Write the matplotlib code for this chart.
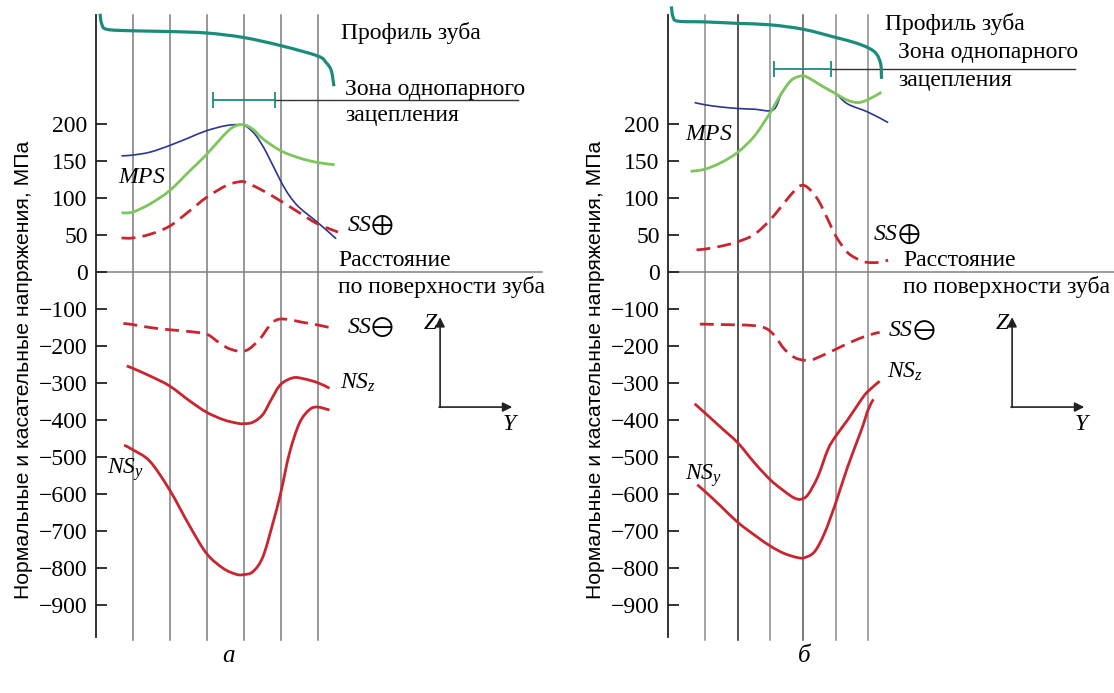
import numpy as np
import matplotlib
matplotlib.use("Agg")
import matplotlib.pyplot as plt
from matplotlib.path import Path
from matplotlib.patches import PathPatch

plt.rcParams['font.family'] = ['Liberation Serif', 'DejaVu Serif']
plt.rcParams['mathtext.fontset'] = 'custom'
plt.rcParams['mathtext.rm'] = 'Liberation Serif'
plt.rcParams['mathtext.it'] = 'Liberation Serif:italic'
plt.rcParams['mathtext.fallback'] = 'stix'

# stress ticks (MPa); positive half of the axis is stretched x2
yticks = [200, 150, 100, 50, 0, -100, -200, -300, -400, -500, -600, -700, -800, -900]

# ---- panel a ----
a_grid = [1, 2, 3, 4, 5, 6]
a_prof_x = [0.11, 0.15, 0.29, 0.99, 1.99, 2.99, 3.98, 4.99, 5.99, 6.22, 6.36, 6.43]
a_prof_y = [349, 336, 328, 326, 325, 323, 317, 306, 292, 283, 272, 251]
a_mps_x = [0.69, 0.99, 1.46, 1.99, 2.54, 2.99, 3.53, 3.93, 4.11, 4.33, 4.60, 4.99, 5.23, 5.50, 5.99, 6.49]
a_mps_y = [157, 158, 162, 171, 182, 191, 198, 199, 195, 184, 162, 123, 103, 87, 67, 45]
a_grn_x = [0.69, 0.99, 1.46, 1.99, 2.54, 2.99, 3.44, 3.71, 3.98, 4.24, 4.51, 4.99, 5.50, 5.99, 6.45]
a_grn_y = [80, 81, 92, 110, 137, 159, 184, 196, 199, 193, 180, 164, 154, 148, 145]
a_ssp_x = [0.69, 0.99, 1.46, 1.99, 2.54, 2.99, 3.53, 3.88, 4.06, 4.51, 4.99, 5.50, 5.99, 6.54]
a_ssp_y = [46, 46, 51, 62, 83, 101, 117, 122, 121, 110, 96, 80, 65, 54]
a_ssm_x = [0.74, 0.99, 1.46, 1.99, 2.54, 2.99, 3.26, 3.53, 3.79, 3.98, 4.15, 4.42, 4.69, 4.83, 4.99, 5.23, 5.59, 5.99, 6.31]
a_ssm_y = [-139, -142, -150, -156, -161, -168, -186, -204, -213, -214, -207, -182, -145, -132, -127, -129, -136, -143, -150]
a_nsz_x = [0.83, 0.99, 1.46, 1.99, 2.54, 2.99, 3.44, 3.79, 3.98, 4.24, 4.51, 4.74, 4.99, 5.32, 5.59, 5.99, 6.31]
a_nsz_y = [-254, -260, -281, -308, -349, -379, -399, -408, -410, -406, -385, -344, -304, -286, -288, -299, -314]
a_nsy_x = [0.76, 0.99, 1.46, 1.99, 2.54, 2.99, 3.44, 3.79, 3.98, 4.24, 4.51, 4.78, 4.99, 5.23, 5.50, 5.77, 5.99, 6.31]
a_nsy_y = [-468, -480, -512, -589, -688, -761, -801, -817, -818, -810, -770, -679, -598, -489, -408, -372, -365, -373]
a_zone = [3.15, 4.84]

# ---- panel b ----
b_grid = [1.0, 1.89, 2.77, 3.66, 4.53, 5.41]
b_prof_x = [0.09, 0.135, 0.27, 1.0, 1.89, 2.77, 3.66, 4.53, 5.05, 5.41, 5.63, 5.75, 5.77]
b_prof_y = [359, 345, 339, 338, 336, 334, 328, 317, 310, 303, 295, 281, 261]
b_mps_x = [0.72, 1.0, 1.44, 1.89, 2.34, 2.84, 3.06, 3.33, 3.60, 3.78, 4.14, 4.53, 4.86, 5.41, 5.95]
b_mps_y = [229, 226, 223, 221, 220, 219, 240, 259, 265, 263, 252, 241, 227, 216, 202]
b_grn_x = [0.61, 1.0, 1.44, 1.89, 2.34, 2.77, 3.06, 3.33, 3.60, 3.78, 4.14, 4.53, 4.86, 5.14, 5.41, 5.77]
b_grn_y = [136, 139, 148, 162, 184, 216, 241, 259, 265, 263, 252, 241, 232, 229, 233, 243]
b_ssp_x = [0.77, 1.0, 1.44, 1.89, 2.34, 2.77, 3.15, 3.42, 3.60, 3.78, 4.05, 4.32, 4.53, 4.86, 5.23, 5.41, 5.68, 5.95]
b_ssp_y = [30, 31, 35, 41, 51, 71, 94, 110, 117, 114, 98, 71, 49, 26, 15, 13, 13, 16]
b_ssm_x = [0.86, 1.0, 1.44, 1.89, 2.34, 2.66, 2.88, 3.15, 3.42, 3.66, 3.87, 4.14, 4.53, 4.95, 5.41, 5.72]
b_ssm_y = [-141, -141, -142, -143, -145, -153, -172, -209, -231, -238, -238, -227, -209, -189, -171, -163]
b_nsz_x = [0.72, 1.0, 1.44, 1.89, 2.34, 2.77, 3.15, 3.42, 3.60, 3.78, 4.05, 4.32, 4.53, 4.86, 5.23, 5.41, 5.72]
b_nsz_y = [-356, -381, -421, -462, -516, -562, -593, -611, -614, -602, -553, -480, -444, -399, -344, -322, -295]
b_nsy_x = [0.79, 1.0, 1.44, 1.89, 2.34, 2.77, 3.15, 3.51, 3.69, 3.96, 4.23, 4.53, 4.86, 5.23, 5.41, 5.55]
b_nsy_y = [-575, -593, -634, -677, -711, -741, -761, -772, -772, -756, -706, -625, -525, -426, -372, -344]
b_zone = [2.87, 4.40]

TEAL = '#1b8c7c'
GREEN = '#7cc65c'
BLUE = '#2b3592'
RED = '#c9252f'
FS = 17


def fwd(v):
    v = np.asarray(v, dtype=float)
    return np.where(v >= 0, v / 50.0, v / 100.0)


def inv(u):
    u = np.asarray(u, dtype=float)
    return np.where(u >= 0, u * 50.0, u * 100.0)


def curve(ax, x, y, **kw):
    # smooth bezier through the read points (control points built in scaled space)
    pts = np.column_stack([np.asarray(x, float), fwd(y)])
    verts = [pts[0]]
    codes = [Path.MOVETO]
    n = len(pts)
    for i in range(n - 1):
        p0 = pts[max(i - 1, 0)]
        p1, p2 = pts[i], pts[i + 1]
        p3 = pts[min(i + 2, n - 1)]
        verts += [p1 + (p2 - p0) / 6.0, p2 - (p3 - p1) / 6.0, p2]
        codes += [Path.CURVE4] * 3
    verts = np.array(verts)
    verts[:, 1] = inv(verts[:, 1])
    ax.add_patch(PathPatch(Path(verts, codes), fill=False, transform=ax.transData,
                           capstyle='butt', joinstyle='round', **kw))


def panel(ax, axis_px, grid, grid_cols, prof, mps, grn, ssp, ssm, nsz, nsy,
          zone, zone_y, leader_end, labels, letter):
    ax.set_yscale('function', functions=(fwd, inv))
    ax.set_xlim((0 - axis_px) / 37.0, (557 - axis_px) / 37.0)
    ax.set_ylim(-1137.8, 367.6)
    ax.patch.set_visible(False)

    for s in ['top', 'right', 'bottom']:
        ax.spines[s].set_visible(False)
    ax.spines['left'].set_position(('data', 0))
    ax.spines['left'].set_bounds(-986, 347)
    ax.spines['left'].set_linewidth(1.3)
    ax.spines['left'].set_color('#222222')
    ax.set_xticks([])
    ax.set_yticks(yticks)
    ax.set_yticklabels([f'{t}'.replace('-', '\u2212') for t in yticks])
    ax.tick_params(axis='y', direction='in', length=8, width=1.3, color='#222222',
                   labelsize=FS, pad=6)
    ax.minorticks_off()

    # vertical grid lines and zero line
    for gx, gc in zip(grid, grid_cols):
        ax.plot([gx, gx], [-995, 347], color=gc, lw=1.1, zorder=1)
    ax.plot([0, 12.05], [0, 0], color='#808080', lw=1.1, zorder=1)

    # tooth profile and single-pair zone
    curve(ax, prof[0], prof[1], edgecolor=TEAL, lw=2.3, zorder=3)
    ax.plot([zone[1], leader_end], [zone_y, zone_y], color='#333333', lw=1.0, zorder=2)
    ax.plot(zone, [zone_y, zone_y], color=TEAL, lw=1.3, marker='|', ms=12, mew=1.3, zorder=3)

    # stress curves
    curve(ax, mps[0], mps[1], edgecolor=BLUE, lw=1.2, zorder=4)
    curve(ax, grn[0], grn[1], edgecolor=GREEN, lw=2.0, zorder=5)
    curve(ax, ssp[0], ssp[1], edgecolor=RED, lw=2.0, ls=(0, (5, 2.6)), zorder=4)
    curve(ax, ssm[0], ssm[1], edgecolor=RED, lw=2.0, ls=(0, (5, 2.6)), zorder=4)
    curve(ax, nsz[0], nsz[1], edgecolor=RED, lw=2.0, zorder=4)
    curve(ax, nsy[0], nsy[1], edgecolor=RED, lw=2.0, zorder=4)

    for txt, x, y, sym in labels:
        ax.text(x, y, txt, fontsize=FS, ha='left', va='center')
        if sym:
            ax.annotate(sym, xy=(x, y), xytext=(17, 0), textcoords='offset points',
                        fontsize=19.5, ha='left', va='center')

    # Z / Y coordinate sketch
    ax.annotate('', xy=(9.30, -122), xytext=(9.30, -366),
                arrowprops=dict(arrowstyle='-|>', color='#222222', lw=1.2, mutation_scale=14,
                                shrinkA=0, shrinkB=0))
    ax.annotate('', xy=(11.25, -365), xytext=(9.27, -365),
                arrowprops=dict(arrowstyle='-|>', color='#222222', lw=1.2, mutation_scale=14,
                                shrinkA=0, shrinkB=0))
    ax.text(8.84, -138, r'$\mathit{Z}$', fontsize=FS, ha='left', va='center')
    ax.text(10.98, -413, r'$\mathit{Y}$', fontsize=FS, ha='left', va='center')

    ax.text(letter[1], -1038, letter[0], fontsize=FS + 1, style='italic', ha='center', va='center')

    ax.set_ylabel('Нормальные и касательные напряжения, МПа', family='Liberation Sans',
                  fontsize=15.2)
    ax.yaxis.set_label_coords(-1.70, -265, transform=ax.transData)


fig = plt.figure(figsize=(11.14, 6.93), dpi=100)
ax_a = fig.add_axes([0, 0, 0.5, 1])
ax_b = fig.add_axes([0.5, 0, 0.5, 1])

panel(ax_a, 96, a_grid, ['#7a7a7a'] * 6,
      (a_prof_x, a_prof_y), (a_mps_x, a_mps_y), (a_grn_x, a_grn_y),
      (a_ssp_x, a_ssp_y), (a_ssm_x, a_ssm_y), (a_nsz_x, a_nsz_y), (a_nsy_x, a_nsy_y),
      a_zone, 233, 11.4,
      [('Профиль зуба', 6.62, 323, None), ('Зона однопарного', 6.73, 247, None),
       ('зацепления', 6.73, 212, None), (r'$\mathit{MPS}$', 0.59, 128, None),
       (r'$\mathit{SS}$', 6.78, 63, r'$\oplus$'),
       ('Расстояние', 6.54, 16, None), ('по поверхности зуба', 6.54, -40, None),
       (r'$\mathit{SS}$', 6.78, -151, r'$\ominus$'), (r'$\mathit{NS}_z$', 6.59, -300, None),
       (r'$\mathit{NS}_y$', 0.30, -535, None)],
      ('а', 3.57))

panel(ax_b, 668 - 557, b_grid, ['#8a8a8a', '#222222', '#8a8a8a', '#555555', '#8a8a8a', '#8a8a8a'],
      (b_prof_x, b_prof_y), (b_mps_x, b_mps_y), (b_grn_x, b_grn_y),
      (b_ssp_x, b_ssp_y), (b_ssm_x, b_ssm_y), (b_nsz_x, b_nsz_y), (b_nsy_x, b_nsy_y),
      b_zone, 275, 11.0,
      [('Профиль зуба', 5.86, 335, None), ('Зона однопарного', 6.22, 296, None),
       ('зацепления', 6.22, 259, None), (r'$\mathit{MPS}$', 0.46, 186, None),
       (r'$\mathit{SS}$', 5.54, 51, r'$\oplus$'),
       ('Расстояние', 6.35, 16, None), ('по поверхности зуба', 6.35, -40, None),
       (r'$\mathit{SS}$', 5.95, -157, r'$\ominus$'), (r'$\mathit{NS}_z$', 5.92, -270, None),
       (r'$\mathit{NS}_y$', 0.46, -549, None)],
      ('б', 3.69))

fig.savefig('out.png', dpi=100)
